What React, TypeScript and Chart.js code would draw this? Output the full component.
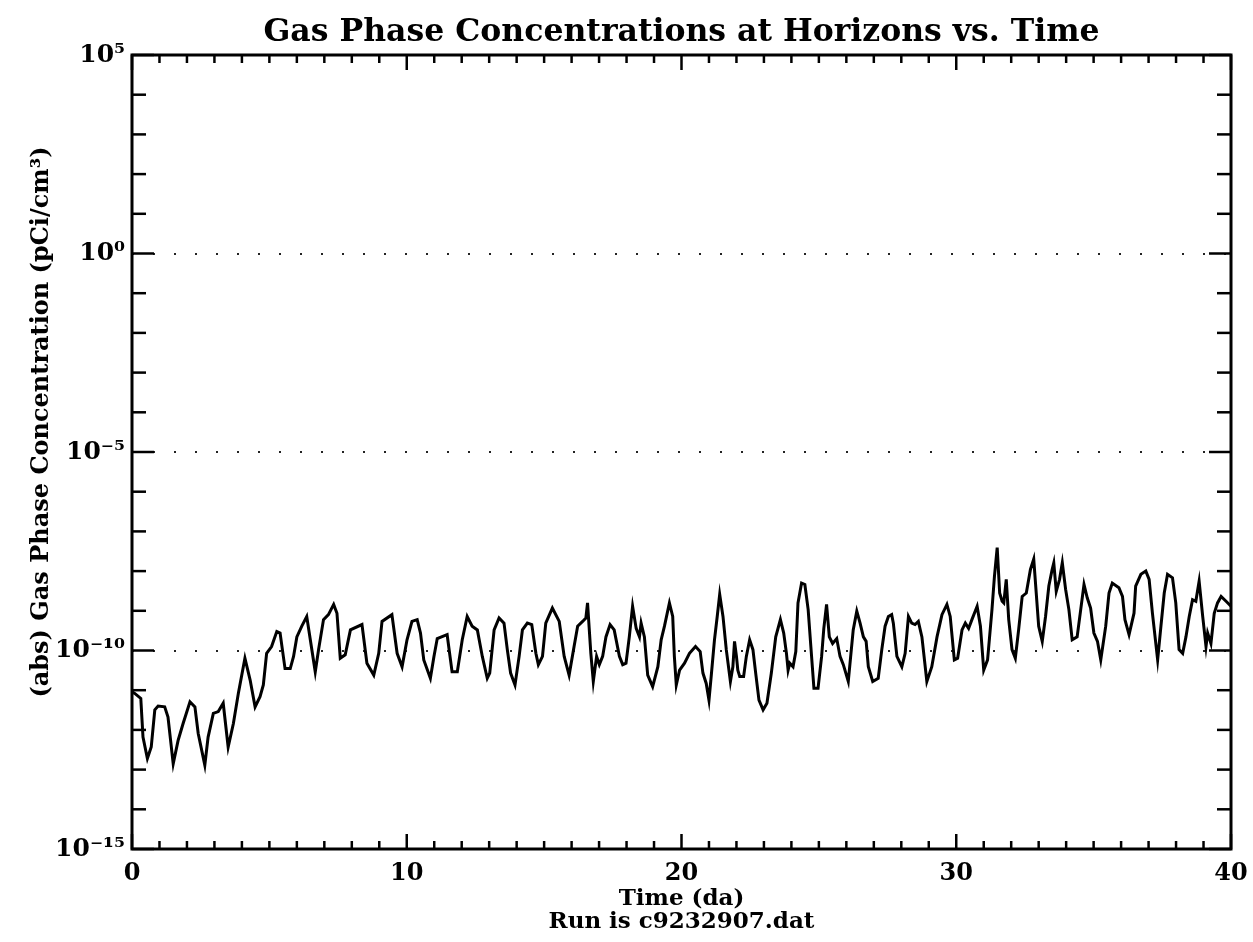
import React, { useEffect, useRef } from "react";
import { Chart, registerables } from "chart.js";

Chart.register(...registerables);

const chartTitle = "Gas Phase Concentrations at Horizons vs. Time";
const yAxisTitle = "(abs) Gas Phase Concentration (pCi/cm³)";
const xAxisTitle = ["Time (da)", "Run is c9232907.dat"];

const yMajorTicks = [1e-15, 1e-10, 1e-5, 1, 1e5];
const yTickLabels = ["10⁻¹⁵", "10⁻¹⁰", "10⁻⁵", "10⁰", "10⁵"];
const yMinorTicks = [
  1e-15, 1e-14, 1e-13, 1e-12, 1e-11, 1e-10, 1e-9, 1e-8, 1e-7, 1e-6, 1e-5,
  1e-4, 1e-3, 1e-2, 1e-1, 1, 1e1, 1e2, 1e3, 1e4, 1e5,
];
const xMajorTicks = [0, 10, 20, 30, 40];
const xMinorTicks = [
  0, 1, 2, 3, 4, 5, 6, 7, 8, 9, 10, 11, 12, 13, 14, 15, 16, 17, 18, 19, 20,
  21, 22, 23, 24, 25, 26, 27, 28, 29, 30, 31, 32, 33, 34, 35, 36, 37, 38, 39, 40,
];

const days = [
  0.0, 0.1, 0.32, 0.4, 0.56, 0.7, 0.83, 0.95, 1.19, 1.31, 1.5, 1.68, 1.86, 2.11,
  2.29, 2.41, 2.65, 2.77, 2.96, 3.14, 3.32, 3.5, 3.69, 3.87, 4.11, 4.3, 4.48,
  4.66, 4.78, 4.9, 5.08, 5.27, 5.39, 5.57, 5.76, 5.88, 6.0, 6.18, 6.36, 6.67,
  6.79, 6.97, 7.15, 7.34, 7.46, 7.58, 7.76, 7.95, 8.37, 8.55, 8.8, 8.98, 9.1,
  9.46, 9.65, 9.83, 10.01, 10.19, 10.38, 10.5, 10.62, 10.86, 10.99, 11.11,
  11.47, 11.65, 11.84, 12.02, 12.2, 12.38, 12.57, 12.75, 12.93, 13.02, 13.18,
  13.36, 13.54, 13.66, 13.78, 13.94, 14.09, 14.21, 14.39, 14.55, 14.7, 14.79,
  14.94, 15.06, 15.3, 15.55, 15.73, 15.91, 16.09, 16.22, 16.4, 16.52, 16.58,
  16.7, 16.79, 16.91, 17.01, 17.13, 17.25, 17.4, 17.55, 17.74, 17.86, 17.98,
  18.1, 18.22, 18.35, 18.47, 18.53, 18.65, 18.77, 18.95, 19.14, 19.26, 19.38,
  19.56, 19.68, 19.74, 19.81, 19.93, 20.11, 20.29, 20.51, 20.68, 20.78, 20.9,
  21.0, 21.08, 21.2, 21.3, 21.39, 21.51, 21.63, 21.78, 21.87, 21.93, 22.0,
  22.05, 22.12, 22.26, 22.36, 22.48, 22.6, 22.7, 22.82, 22.97, 23.11, 23.27,
  23.43, 23.6, 23.72, 23.82, 23.88, 23.94, 24.06, 24.16, 24.24, 24.37, 24.49,
  24.61, 24.7, 24.82, 24.97, 25.1, 25.18, 25.28, 25.38, 25.5, 25.65, 25.77,
  25.89, 26.07, 26.25, 26.38, 26.5, 26.62, 26.72, 26.8, 26.96, 27.16, 27.29,
  27.41, 27.53, 27.65, 27.71, 27.84, 28.02, 28.14, 28.26, 28.38, 28.5, 28.62,
  28.75, 28.93, 29.11, 29.3, 29.48, 29.66, 29.78, 29.93, 30.05, 30.21, 30.33,
  30.45, 30.57, 30.76, 30.88, 31.0, 31.14, 31.3, 31.39, 31.49, 31.58, 31.67,
  31.73, 31.82, 31.91, 32.03, 32.15, 32.27, 32.4, 32.55, 32.7, 32.82, 33.0,
  33.13, 33.25, 33.37, 33.49, 33.55, 33.64, 33.76, 33.86, 33.98, 34.1, 34.22,
  34.4, 34.53, 34.65, 34.77, 34.89, 35.01, 35.14, 35.26, 35.44, 35.56, 35.68,
  35.92, 36.05, 36.14, 36.29, 36.47, 36.53, 36.72, 36.9, 37.02, 37.14, 37.33,
  37.45, 37.57, 37.69, 37.87, 37.99, 38.11, 38.24, 38.36, 38.48, 38.6, 38.72,
  38.84, 38.97, 39.09, 39.15, 39.27, 39.39, 39.51, 39.64, 39.82, 40.0,
];

const concentration = [
  9.1e-12, 8.3e-12, 6.2e-12, 6.6e-13, 1.9e-13, 3.7e-13, 3.2e-12, 4.0e-12,
  3.8e-12, 2.1e-12, 1.4e-13, 5.5e-13, 1.45e-12, 5.1e-12, 3.8e-12, 8.1e-13,
  1.3e-13, 6.6e-13, 2.6e-12, 2.9e-12, 4.7e-12, 3.7e-13, 1.45e-12, 8.3e-12,
  6.4e-11, 1.8e-11, 3.8e-12, 6.9e-12, 1.35e-11, 8.5e-11, 1.26e-10, 3.0e-10,
  2.75e-10, 3.5e-11, 3.5e-11, 7.1e-11, 2.2e-10, 4.1e-10, 7.2e-10, 2.9e-11,
  1.05e-10, 6.0e-10, 8.0e-10, 1.45e-9, 8.7e-10, 6.4e-11, 7.8e-11, 3.3e-10,
  4.5e-10, 4.8e-11, 2.4e-11, 8.5e-11, 5.4e-10, 8.0e-10, 8.5e-11, 3.9e-11,
  1.86e-10, 5.4e-10, 6.0e-10, 2.75e-10, 5.8e-11, 2.0e-11, 7.1e-11, 2.0e-10,
  2.5e-10, 2.9e-11, 2.9e-11, 1.86e-10, 7.2e-10, 4.1e-10, 3.3e-10, 7.1e-11,
  2.0e-11, 2.7e-11, 3.3e-10, 6.6e-10, 4.9e-10, 1.05e-10, 2.7e-11, 1.35e-11,
  7.1e-11, 3.3e-10, 4.9e-10, 4.5e-10, 8.5e-11, 4.4e-11, 7.1e-11, 4.9e-10,
  1.17e-9, 5.4e-10, 7.1e-11, 2.4e-11, 1.26e-10, 4.1e-10, 5.4e-10, 6.6e-10,
  1.58e-9, 8.5e-11, 1.66e-11, 7.1e-11, 4.4e-11, 7.1e-11, 2.2e-10, 4.5e-10,
  3.3e-10, 7.1e-11, 4.4e-11, 4.8e-11, 2.2e-10, 1.3e-9, 3.6e-10, 2.2e-10,
  4.9e-10, 2.2e-10, 2.4e-11, 1.23e-11, 3.9e-11, 1.86e-10, 4.1e-10, 1.58e-9,
  7.2e-10, 7.1e-11, 1.35e-11, 3.2e-11, 4.8e-11, 8.5e-11, 1.26e-10, 9.4e-11,
  2.7e-11, 1.48e-11, 5.6e-12, 2.2e-11, 1.86e-10, 7.2e-10, 2.6e-9, 7.2e-10,
  1.05e-10, 1.66e-11, 3.9e-11, 1.7e-10, 7.1e-11, 3.2e-11, 2.2e-11, 2.2e-11,
  7.1e-11, 1.86e-10, 1.05e-10, 2.7e-11, 5.6e-12, 3.2e-12, 4.7e-12, 2.7e-11,
  2.2e-10, 6.0e-10, 2.75e-10, 8.5e-11, 3.2e-11, 4.8e-11, 3.9e-11, 9.4e-11,
  1.58e-9, 5.0e-9, 4.6e-9, 1.07e-9, 1.5e-10, 1.12e-11, 1.12e-11, 7.1e-11,
  3.6e-10, 1.45e-9, 2.2e-10, 1.5e-10, 2.0e-10, 7.1e-11, 4.4e-11, 1.66e-11,
  3.3e-10, 9.8e-10, 4.9e-10, 2.2e-10, 1.7e-10, 3.9e-11, 1.66e-11, 2.0e-11,
  1.05e-10, 4.1e-10, 7.2e-10, 8.0e-10, 4.9e-10, 7.1e-11, 3.9e-11, 8.5e-11,
  7.2e-10, 4.9e-10, 4.5e-10, 5.4e-10, 2.2e-10, 1.66e-11, 3.9e-11, 2.2e-10,
  8.0e-10, 1.45e-9, 7.2e-10, 5.8e-11, 6.4e-11, 3.3e-10, 4.9e-10, 3.6e-10,
  6.0e-10, 1.3e-9, 4.1e-10, 3.2e-11, 5.8e-11, 1.07e-9, 7.4e-9, 3.9e-8,
  2.8e-9, 1.74e-9, 1.58e-9, 6.2e-9, 6.0e-10, 1.05e-10, 6.4e-11, 3.3e-10,
  2.3e-9, 2.8e-9, 1.1e-8, 2.0e-8, 4.1e-10, 1.7e-10, 7.2e-10, 4.2e-9, 1.1e-8,
  1.62e-8, 3.1e-9, 6.2e-9, 1.62e-8, 3.5e-9, 1.07e-9, 1.86e-10, 2.2e-10,
  1.07e-9, 4.6e-9, 2.1e-9, 1.17e-9, 2.75e-10, 1.7e-10, 5.8e-11, 4.1e-10,
  2.8e-9, 5.0e-9, 3.8e-9, 2.3e-9, 6.0e-10, 2.5e-10, 8.7e-10, 4.2e-9, 8.3e-9,
  1.0e-8, 6.2e-9, 8.7e-10, 5.8e-11, 4.1e-10, 2.8e-9, 8.3e-9, 6.8e-9, 1.58e-9,
  1.05e-10, 8.5e-11, 2.2e-10, 7.2e-10, 1.9e-9, 1.74e-9, 5.6e-9, 7.2e-10,
  1.26e-10, 2.75e-10, 1.5e-10, 8.7e-10, 1.58e-9, 2.3e-9, 1.74e-9, 1.3e-9,
];

const FONT = "'DejaVu Serif', serif";

const frameAndTicks = {
  id: "frameAndTicks",
  afterDatasetsDraw(chart: any) {
    const { ctx, chartArea, scales } = chart;
    const { left, right, top, bottom } = chartArea;
    const x = scales.x;
    const y = scales.y;
    ctx.save();
    ctx.strokeStyle = "#000";
    ctx.lineCap = "butt";
    ctx.lineWidth = 2.5;
    const seg = (x1: number, y1: number, x2: number, y2: number) => {
      ctx.beginPath();
      ctx.moveTo(x1, y1);
      ctx.lineTo(x2, y2);
      ctx.stroke();
    };
    xMinorTicks.forEach((d) => {
      const px = x.getPixelForValue(d);
      const len = xMajorTicks.includes(d) ? 15 : 8;
      seg(px, bottom, px, bottom - len);
      seg(px, top, px, top + len);
    });
    yMinorTicks.forEach((v) => {
      const py = y.getPixelForValue(v);
      const len = yMajorTicks.includes(v) ? 22 : 14;
      seg(left, py, left + len, py);
      seg(right, py, right - len, py);
    });
    ctx.lineWidth = 3;
    ctx.strokeRect(left, top, right - left, bottom - top);

    // y axis title
    ctx.fillStyle = "#000";
    ctx.font = `bold 24px ${FONT}`;
    ctx.textAlign = "center";
    ctx.textBaseline = "middle";
    ctx.translate(42, (top + bottom) / 2 - 30);
    ctx.rotate(-Math.PI / 2);
    ctx.fillText(yAxisTitle, 0, 0);
    ctx.restore();
  },
};

export default function App() {
  const canvasRef = useRef<HTMLCanvasElement | null>(null);

  useEffect(() => {
    if (!canvasRef.current) return;
    const chart = new Chart(canvasRef.current, {
      type: "line",
      data: {
        datasets: [
          {
            label: "Concentration",
            data: days.map((d, i) => ({ x: d, y: concentration[i] })),
            borderColor: "#000",
            borderWidth: 3,
            pointRadius: 0,
            tension: 0,
            fill: false,
          },
        ],
      },
      options: {
        animation: false,
        responsive: false,
        layout: { padding: { left: 0, right: 22, top: 0, bottom: 0 } },
        plugins: {
          legend: { display: false },
          tooltip: { enabled: false },
          title: {
            display: true,
            text: chartTitle,
            fullSize: false,
            color: "#000",
            font: { family: FONT, size: 31.5, weight: "bold", lineHeight: 1 },
            padding: { top: 17.5, bottom: 6 },
          },
        },
        scales: {
          x: {
            type: "linear",
            min: 0,
            max: 40,
            afterBuildTicks: (scale: any) => {
              scale.ticks = xMajorTicks.map((v) => ({ value: v }));
            },
            afterFit: (scale: any) => {
              scale.height = 93;
              scale.paddingRight = 0;
              scale.paddingLeft = 0;
            },
            grid: { display: false, drawTicks: false },
            border: { display: false },
            ticks: {
              color: "#000",
              padding: 10,
              maxRotation: 0,
              font: { family: FONT, size: 24, weight: "bold" },
            },
            title: {
              display: true,
              text: xAxisTitle,
              color: "#000",
              font: { family: FONT, size: 23, weight: "bold", lineHeight: 1 },
              padding: { top: 0, bottom: 8 },
            },
          },
          y: {
            type: "logarithmic",
            min: 1e-15,
            max: 1e5,
            afterBuildTicks: (scale: any) => {
              scale.ticks = yMajorTicks.map((v) => ({ value: v }));
            },
            afterFit: (scale: any) => {
              scale.width = 132;
            },
            grid: {
              drawTicks: false,
              lineWidth: 2,
              color: (ctx: any) =>
                ctx.tick && (ctx.tick.value === 1e-15 || ctx.tick.value === 1e5)
                  ? "rgba(0,0,0,0)"
                  : "#222",
            },
            border: { display: false, dash: [2, 19] },
            ticks: {
              color: "#000",
              padding: 7,
              font: { family: FONT, size: 25, weight: "bold" },
              callback: (value: any) => {
                const i = yMajorTicks.indexOf(Number(value));
                return i >= 0 ? yTickLabels[i] : "";
              },
            },
          },
        },
      },
      plugins: [frameAndTicks],
    });
    return () => chart.destroy();
  }, []);

  return (
    <div
      style={{
        position: "fixed",
        left: 0,
        top: 0,
        width: 1253,
        height: 942,
        background: "#fff",
      }}
    >
      <canvas ref={canvasRef} width={1253} height={942} style={{ display: "block" }} />
    </div>
  );
}
